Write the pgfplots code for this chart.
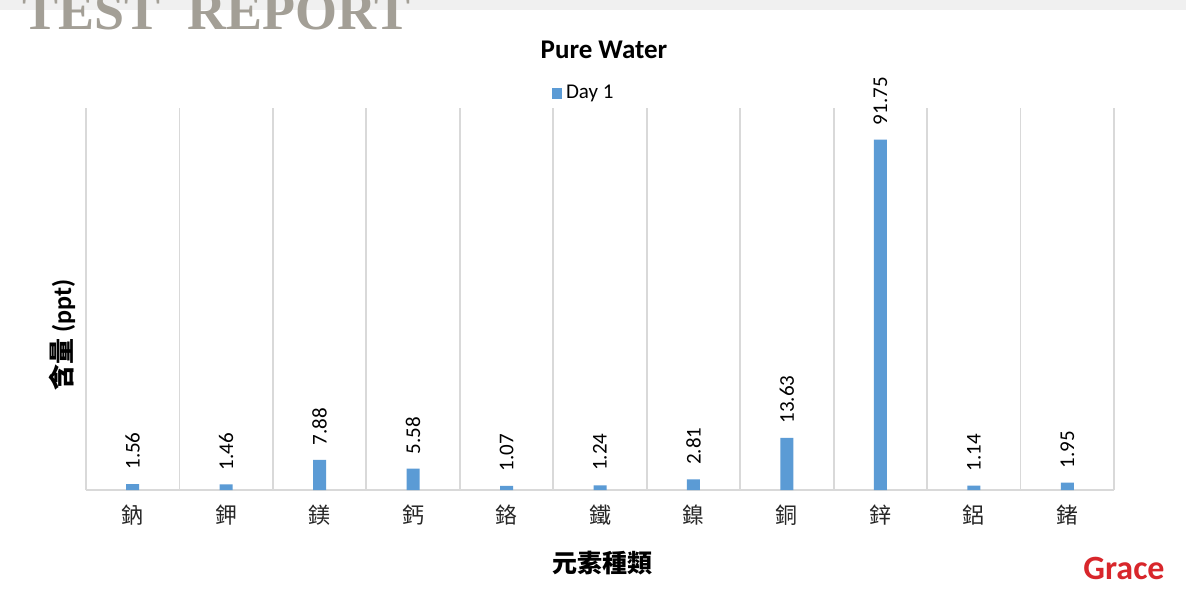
\documentclass[border=0pt]{standalone}
\usepackage{pgfplots}
\pgfplotsset{compat=1.18}
\usepackage{fontspec}
\setmainfont{Carlito}
\newfontfamily\cjk{Noto Sans CJK TC}
\newfontfamily\rptfont{Liberation Serif}
\definecolor{barblue}{HTML}{5B9BD5}
\definecolor{gridgray}{HTML}{D9D9D9}
\definecolor{rptgray}{HTML}{A39F96}
\definecolor{gracered}{HTML}{D8262B}
\begin{document}
\begin{tikzpicture}
\useasboundingbox (0,0) rectangle (593pt,299.5pt);
\fill[white] (0,0) rectangle (593pt,299.5pt);
\fill[black!6] (0,294.5pt) rectangle (593pt,299.5pt);
\node[anchor=base west, inner sep=0pt, text=rptgray, font=\rptfont\bfseries\fontsize{27}{27}\selectfont]
  at (11pt,284.5pt) {TEST\ \ REPORT};
\begin{axis}[
  at={(43pt,54.5pt)}, anchor=south west,
  scale only axis, width=514pt, height=191pt,
  ybar, bar width=6.5pt,
  xmin=-0.5, xmax=10.5, ymin=0, ymax=100,
  axis x line*=bottom, axis y line=none,
  x axis line style={gridgray, line width=0.9pt},
  xtick={0,...,10},
  xticklabels={鈉,鉀,鎂,鈣,鉻,鐵,鎳,銅,鋅,鋁,鍺},
  xticklabel style={font=\cjk\fontsize{11}{12}\selectfont, text=black!85, yshift=-4pt},
  major tick length=0pt,
  minor xtick={-0.5,0.5,...,10.5},
  minor tick length=0pt,
  xminorgrids, minor grid style={gridgray, line width=0.9pt},
  nodes near coords,
  nodes near coords style={rotate=90, anchor=west, inner xsep=7pt, inner ysep=0pt,
    font=\fontsize{10.5}{12}\selectfont, text=black},
  point meta=explicit symbolic,
  legend style={at={(0.485,1)}, anchor=south, yshift=-1pt, draw=none, fill=none,
    font=\fontsize{10.5}{12}\selectfont},
  legend image code/.code={\fill[barblue] (0pt,-2.6pt) rectangle (5.2pt,2.6pt);},
]
\addplot[fill=barblue, draw=none] coordinates {
  (0,1.56) [1.56]
  (1,1.46) [1.46]
  (2,7.88) [7.88]
  (3,5.58) [5.58]
  (4,1.07) [1.07]
  (5,1.24) [1.24]
  (6,2.81) [2.81]
  (7,13.63) [13.63]
  (8,91.75) [91.75]
  (9,1.14) [1.14]
  (10,1.95) [1.95]
};
\legend{Day 1}
\end{axis}
\node[font=\bfseries\fontsize{13.5}{15}\selectfont] at (302pt,274.5pt) {Pure Water};
\node[rotate=90, font=\bfseries\fontsize{13}{14}\selectfont] at (31pt,132pt) {{\cjk\bfseries 含量} (ppt)};
\node[font=\cjk\bfseries\fontsize{12.5}{14}\selectfont] at (301pt,18pt) {元素種類};
\node[font=\bfseries\fontsize{17}{18}\selectfont, text=gracered] at (562pt,15.5pt) {Grace};
\end{tikzpicture}
\end{document}
